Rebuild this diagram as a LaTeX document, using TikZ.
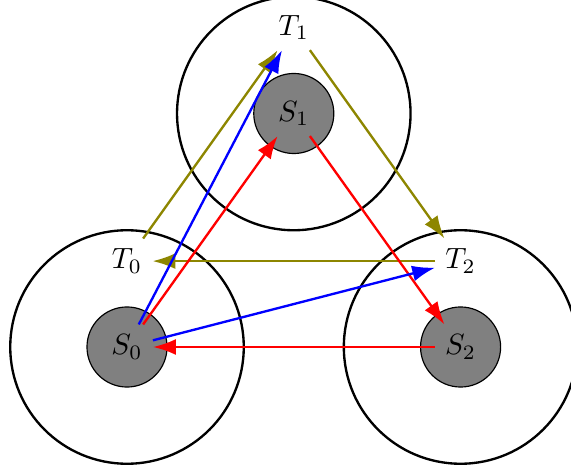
\documentclass[tikz,border=0pt]{standalone}
\usetikzlibrary{arrows.meta}
\begin{document}
\begin{tikzpicture}[
  bigring/.style={draw, thick, circle, minimum size=2.8cm, inner sep=0pt},
  state/.style={draw, fill=gray, circle, minimum size=0.96cm, inner sep=0pt},
  lbl/.style={inner sep=3.33pt},
  conn/.style={thick, -{Latex[length=7.8pt,width=5.4pt]}}
]
\useasboundingbox (-1.523,-1.463) rectangle (5.324,4.161);
\clip (-1.523,-1.463) rectangle (5.324,4.161);
% big rings
\node[bigring] (R0) at (0,0) {};
\node[bigring] (R1) at (2,2.8) {};
\node[bigring] (R2) at (4,0) {};
% gray discs
\node[state] (D0) at (0,0) {};
\node[state] (D1) at (2,2.8) {};
\node[state] (D2) at (4,0) {};
% labels
\node[lbl] (S0) at (0,0) {$S_0$};
\node[lbl] (S1) at (2,2.8) {$S_1$};
\node[lbl] (S2) at (4,0) {$S_2$};
\node[lbl] (T0) at (0,1.03) {$T_0$};
\node[lbl] (T1) at (2,3.83) {$T_1$};
\node[lbl] (T2) at (4,1.03) {$T_2$};
% olive
\draw[conn, olive] (T0) -- (T1);
\draw[conn, olive] (T1) -- (T2);
\draw[conn, olive] (T2) -- (T0);
% red
\draw[conn, red] (S0) -- (S1);
\draw[conn, red] (S1) -- (S2);
\draw[conn, red] (S2) -- (S0);
% blue
\draw[conn, blue] (S0) -- (T1);
\draw[conn, blue] (S0) -- (T2);
\end{tikzpicture}
\end{document}
